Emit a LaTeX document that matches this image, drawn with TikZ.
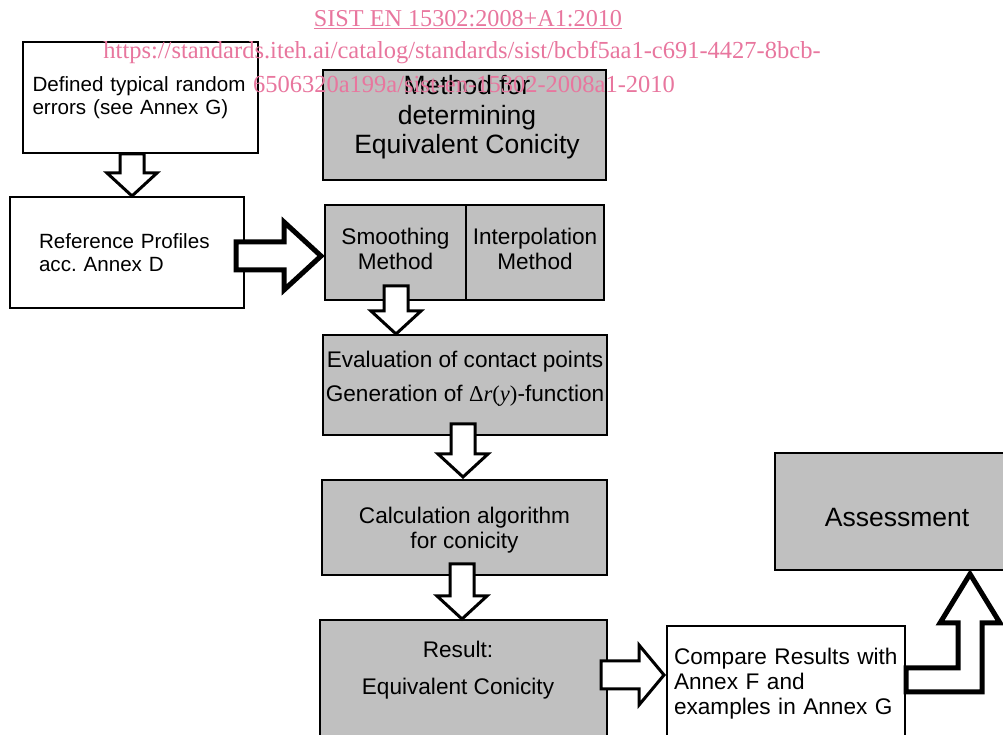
\documentclass[tikz,border=0pt]{standalone}
\usepackage{fontspec}
\setmainfont{Liberation Sans}
\newfontfamily\serifface{Liberation Serif}
\usetikzlibrary{calc}
\frenchspacing
\hyphenpenalty=10000
\definecolor{boxgray}{RGB}{192,192,192}
\definecolor{wmpink}{RGB}{232,118,158}
\tikzset{
  graybox/.style={draw=black, fill=boxgray, line width=2pt, inner sep=0pt},
  whitebox/.style={draw=black, fill=white, line width=2pt, inner sep=0pt},
  smalltxt/.style={font=\fontsize{20.6}{23}\selectfont},
  bodytxt/.style={font=\fontsize{22.6}{25}\selectfont},
  bigtxt/.style={font=\fontsize{26.5}{29.5}\selectfont},
  blockarrow/.style={draw=black, fill=white, line width=3pt, line join=miter},
  heavyarrow/.style={blockarrow, line width=5pt},
  wmark/.style={text=wmpink, font=\serifface\fontsize{24.5}{30}\selectfont}
}
% hollow arrow pointing down: #2 shaft start, #3 tip
\newcommand{\downblock}[3][blockarrow]{%
  \draw[#1] ($(#2)+(-12,0)$) -- ($(#3)+(-12,23)$) -- ($(#3)+(-25,23)$) -- (#3)
    -- ($(#3)+(25,23)$) -- ($(#3)+(12,23)$) -- ($(#2)+(12,0)$) -- cycle;}
\begin{document}
\begin{tikzpicture}[x=1pt, y=1pt]
  \useasboundingbox (0,0) rectangle (1003,735);
  \clip (0,0) rectangle (1003,735);

  % left column
  \node [whitebox, smalltxt, minimum width=235, minimum height=111, text width=216, align=left] (errors) at (140.5,637.5)
    {Defined typical random\\errors (see Annex G)};
  \node [whitebox, smalltxt, minimum width=234, minimum height=111, text width=176, align=left] (refprof) at (127,482.5)
    {Reference Profiles\\acc. Annex D};

  % middle column
  \node [graybox, minimum width=283, minimum height=110] (method) at (464.5,610) {};
  \node [bigtxt, align=center] (methodtxt) at (467,617.5) {Method for\\determining\\Equivalent Conicity};
  \node [graybox, bodytxt, minimum width=141, minimum height=95, align=center] (smooth) at (395.5,482.5) {};
  \node [graybox, bodytxt, minimum width=138, minimum height=95, align=center] (interp) at (535,482.5) {};
  \node [bodytxt, align=center] (smoothtxt) at (395.5,486.5) {Smoothing\\Method};
  \node [bodytxt, align=center] (interptxt) at (535,486.5) {Interpolation\\Method};
  \node [graybox, minimum width=284, minimum height=100] (eval) at (465,350) {};
  \node [bodytxt, align=center, font=\fontsize{22.6}{34}\selectfont] (evaltxt) at (465,356)
    {Evaluation of contact points\\Generation of {\serifface Δ\textit{r}(\textit{y})}-function};
  \node [graybox, bodytxt, minimum width=285, minimum height=95, align=center] (calc) at (464.5,207.5) {};
  \node [bodytxt, align=center] (calctxt) at (464.5,205) {Calculation algorithm\\for conicity};
  \node [graybox, minimum width=287, minimum height=140] (result) at (463.5,45) {};
  \node [align=center, font=\fontsize{22.6}{37}\selectfont] (resulttxt) at (458,64.5) {Result:\\Equivalent Conicity};

  % right column
  \node [whitebox, bodytxt, minimum width=238, minimum height=116, text width=224, align=left] (compare) at (786,51)
    {Compare Results with\\Annex F and\\examples in Annex G};
  \node [graybox, minimum width=244, minimum height=117] (assess) at (897,223.5) {};
  \node [bigtxt] (assesstxt) at (897,217.5) {Assessment};

  % hollow arrows
  \coordinate (d1) at (132,0);
  \coordinate (d2) at (396,0);
  \coordinate (d3) at (463,0);
  \coordinate (d4) at (462,0);
  \downblock{errors.south -| d1}{refprof.north -| d1}
  \downblock{$(smooth.south -| d2)+(0,15)$}{eval.north -| d2}
  \downblock{$(eval.south -| d3)+(0,12)$}{$(calc.north -| d3)+(0,2)$}
  \downblock{$(calc.south -| d4)+(0,12)$}{result.north -| d4}

  \coordinate (r1) at (0,479);
  \draw [heavyarrow] ($(refprof.east |- r1)+(-9,14)$) -- ($(smooth.west |- r1)+(-40,14)$) -- ($(smooth.west |- r1)+(-40,34)$)
    -- ($(smooth.west |- r1)+(-3,0)$) -- ($(smooth.west |- r1)+(-40,-34)$) -- ($(smooth.west |- r1)+(-40,-14)$)
    -- ($(refprof.east |- r1)+(-9,-14)$) -- cycle;

  \coordinate (r2) at (0,60);
  \draw [blockarrow] ($(result.east |- r2)+(-7,14)$) -- ($(compare.west |- r2)+(-27,14)$) -- ($(compare.west |- r2)+(-27,30)$)
    -- ($(compare.west |- r2)+(-2,0)$) -- ($(compare.west |- r2)+(-27,-30)$) -- ($(compare.west |- r2)+(-27,-14)$)
    -- ($(result.east |- r2)+(-7,-14)$) -- cycle;

  % elbow up to the assessment
  \coordinate (elb) at (970,55);
  \draw [heavyarrow] ($(compare.east |- elb)+(0,-12)$) -- ($(elb)+(12,-12)$) -- ($(elb)+(12,57)$) -- ($(elb)+(30,57)$)
    -- ($(assess.south -| elb)+(0,-3)$) -- ($(elb)+(-30,57)$) -- ($(elb)+(-12,57)$) -- ($(elb)+(-12,12)$)
    -- ($(compare.east |- elb)+(0,12)$) -- cycle;

  % watermark
  \node [wmark, font=\serifface\fontsize{24.2}{30}\selectfont] (wm1) at (468,715) {\underline{SIST EN 15302:2008+A1:2010}};
  \node [wmark] (wm2) at (462,682) {https://standards.iteh.ai/catalog/standards/sist/bcbf5aa1-c691-4427-8bcb-};
  \node [wmark] (wm3) at (464,651) {6506320a199a/sist-en-15302-2008a1-2010};
\end{tikzpicture}
\end{document}
